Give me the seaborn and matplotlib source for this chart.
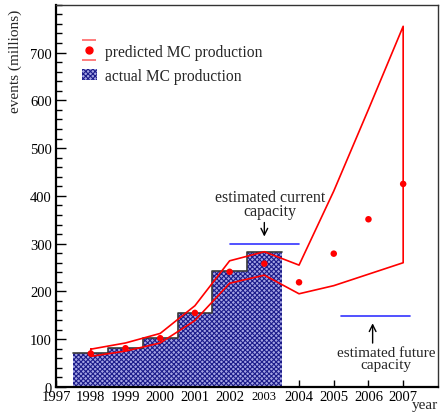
import numpy as np
import pandas as pd
import matplotlib
matplotlib.use("Agg")
import matplotlib.pyplot as plt
import seaborn as sns
from matplotlib.lines import Line2D
from matplotlib.patches import Patch
from matplotlib.path import Path
from matplotlib.legend_handler import HandlerTuple
from matplotlib.ticker import MultipleLocator

# ---- data ----
hist_years = [1998, 1999, 2000, 2001, 2002, 2003]
actual = [71, 81, 102, 155, 242, 282]

pred_years = [1998, 1999, 2000, 2001, 2002, 2003, 2004, 2005, 2006, 2007]
predicted = [70, 81, 102, 155, 241, 258, 219, 279, 351, 425]
upper = [79, 92, 112, 170, 264, 283, 255, 410, 581, 755]
lower = [64, 75, 92, 139, 217, 234, 195, 212, 236, 260]

current_cap_years = [2002, 2004]
current_cap = 300
future_cap_years = [2005.2, 2007.2]
future_cap = 148

xtick_years = list(range(1997, 2008))

sns.set_theme(style="ticks")
plt.rcParams['font.family'] = ['Liberation Serif', 'DejaVu Serif']
plt.rcParams['hatch.linewidth'] = 0.8

HIST_FACE = "#a4a4e4"
HIST_HATCH = "#1c1c8a"
HATCH = "xxxxxxx"

fig = plt.figure(figsize=(4.45, 4.14), dpi=100)
ax = fig.add_axes([0.126, 0.063, 0.858, 0.923])

hdf = pd.DataFrame({"year": hist_years, "events": actual})
sns.histplot(data=hdf, x="year", weights="events", discrete=True, ax=ax,
             element="bars", fill=True, facecolor=HIST_FACE, edgecolor=HIST_HATCH,
             hatch=HATCH, linewidth=0, alpha=1.0)
sns.histplot(data=hdf, x="year", weights="events", discrete=True, ax=ax,
             element="step", fill=False, color="#3a3a3a", linewidth=1.2)

# envelope (closed band)
env_x = pred_years + pred_years[::-1] + [pred_years[0]]
env_y = upper + lower[::-1] + [upper[0]]
edf = pd.DataFrame({"x": env_x, "y": env_y})
sns.lineplot(data=edf, x="x", y="y", sort=False, estimator=None, ax=ax,
             color="#ff0000", linewidth=1.2)

pdf = pd.DataFrame({"year": pred_years, "pred": predicted})
sns.scatterplot(data=pdf, x="year", y="pred", ax=ax, color="#ff0000",
                s=22, edgecolor="none", zorder=5)

# capacity lines
ax.plot(current_cap_years, [current_cap] * 2, color="#3333ff", lw=1.2)
ax.plot(future_cap_years, [future_cap] * 2, color="#3333ff", lw=1.2)

ax.annotate("", xy=(2003.0, 309), xytext=(2003.0, 350),
            arrowprops=dict(arrowstyle="->", color="black", lw=1.0))
ax.text(2003.16, 383, "estimated current\ncapacity", ha="center", va="center",
        fontsize=11.5, linespacing=0.85)
ax.annotate("", xy=(2006.12, 139), xytext=(2006.12, 86),
            arrowprops=dict(arrowstyle="->", color="black", lw=1.0))
ax.text(2006.5, 60, "estimated future\ncapacity", ha="center", va="center",
        fontsize=11, linespacing=0.85)

ax.set_xlim(1997, 2008)
ax.set_ylim(0, 800)
ax.set_xticks(xtick_years)
ax.set_xticklabels([str(y) for y in xtick_years])
ax.set_yticks(range(0, 800, 100))
ax.yaxis.set_minor_locator(MultipleLocator(20))
ax.tick_params(axis="both", which="both", direction="in", labelsize=10.5, colors="black")
ax.tick_params(axis="y", which="major", length=7, width=1, pad=3)
ax.tick_params(axis="y", which="minor", length=4, width=1)
ax.tick_params(axis="x", which="major", length=5, width=1, pad=2)
for lbl in ax.get_xticklabels():
    if lbl.get_text() == "2003":
        lbl.set_fontsize(9)

ax.set_xlabel("year", fontsize=11, ha="right", va="top")
ax.xaxis.set_label_coords(1.0, -0.03)
ax.set_ylabel("events (millions)", fontsize=11, ha="right", va="center")
ax.yaxis.set_label_coords(-0.107, 0.99)

for s in ["left", "bottom"]:
    ax.spines[s].set_linewidth(1.6)
    ax.spines[s].set_color("black")
for s in ["top", "right"]:
    ax.spines[s].set_linewidth(1.0)
    ax.spines[s].set_color("#333333")

# legend
bar_path = Path([(-0.7, 1), (0.7, 1), (-0.7, -1), (0.7, -1)],
                [Path.MOVETO, Path.LINETO, Path.MOVETO, Path.LINETO])
h_band = Line2D([], [], marker=bar_path, markersize=14.5, color="#ff6666",
                linestyle="none", markeredgewidth=1.2)
h_dot = Line2D([], [], marker="o", markersize=5, color="#ff0000", linestyle="none")
h_hist = Patch(facecolor=HIST_FACE, edgecolor=HIST_HATCH, hatch=HATCH, linewidth=0)
ax.legend([(h_band, h_dot), h_hist], ["predicted MC production", "actual MC production"],
          handler_map={tuple: HandlerTuple(ndivide=1, pad=0)},
          loc="upper left", bbox_to_anchor=(0.03, 0.935), frameon=False,
          fontsize=11.2, handlelength=1.0, handletextpad=0.5, labelspacing=0.55)

fig.savefig("out.png", dpi=100)
